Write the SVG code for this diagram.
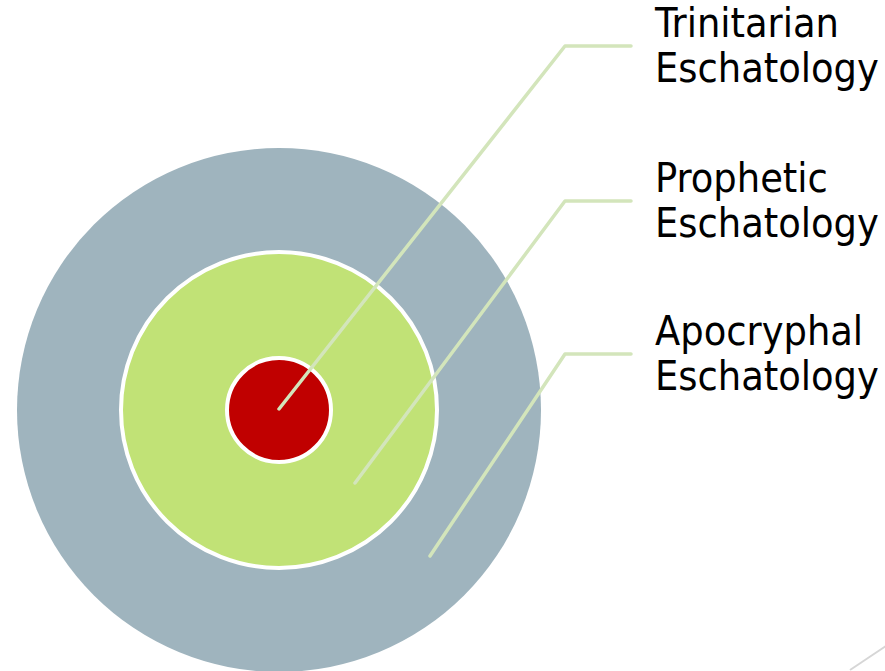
<svg xmlns="http://www.w3.org/2000/svg" width="885" height="671" viewBox="0 0 885 671">
<style>
.ring{stroke:#ffffff;stroke-width:4}
.conn{fill:none;stroke:#d3e5bb;stroke-width:3.5;stroke-linecap:round;stroke-linejoin:round}
.lbl{font-family:'DejaVu Sans Condensed','DejaVu Sans',sans-serif;font-stretch:condensed;font-size:41px;fill:#000000}
</style>
<rect width="885" height="671" fill="#ffffff"/>
<line x1="850" y1="670" x2="886" y2="646" stroke="#d6d6d6" stroke-width="2"/>
<g id="apocryphal">
<circle cx="279" cy="410" r="262" fill="#9fb4be"/>
</g>
<g id="prophetic">
<circle class="ring" cx="279" cy="410" r="158" fill="#c1e276"/>
</g>
<g id="trinitarian">
<circle class="ring" cx="279" cy="410" r="52" fill="#c00000"/>
</g>
<g id="connectors">
<polyline class="conn" points="279,409 565,46 631,46"/>
<polyline class="conn" points="355,483 565,201 631,201"/>
<polyline class="conn" points="430,556 565,354 631,354"/>
</g>
<g id="label-trinitarian">
<text class="lbl" x="655" y="37">Trinitarian</text>
<text class="lbl" x="655" y="82">Eschatology</text>
</g>
<g id="label-prophetic">
<text class="lbl" x="655" y="192">Prophetic</text>
<text class="lbl" x="655" y="237">Eschatology</text>
</g>
<g id="label-apocryphal">
<text class="lbl" x="655" y="345">Apocryphal</text>
<text class="lbl" x="655" y="390">Eschatology</text>
</g>
</svg>
